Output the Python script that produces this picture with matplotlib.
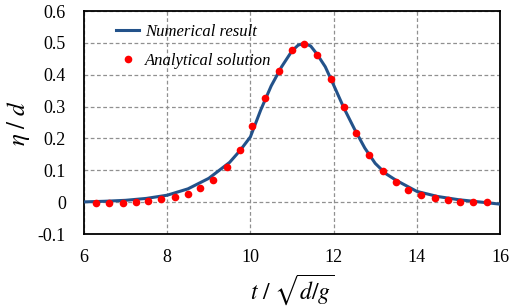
import matplotlib
matplotlib.use("Agg")
import matplotlib.pyplot as plt
import numpy as np

# Numerical result (blue line)
line_t = [6.0, 6.5, 7.0, 7.5, 8.0, 8.5, 9.0, 9.5, 9.75, 10.0, 10.25, 10.5, 10.75,
          11.0, 11.15, 11.3, 11.45, 11.6, 11.8, 12.0, 12.25, 12.5, 12.75, 13.0,
          13.25, 13.5, 14.0, 14.5, 15.0, 15.5, 16.0]
line_eta = [0.001, 0.003, 0.006, 0.012, 0.022, 0.042, 0.075, 0.125, 0.162, 0.205,
            0.290, 0.365, 0.425, 0.475, 0.493, 0.499, 0.490, 0.465, 0.425, 0.368,
            0.295, 0.230, 0.170, 0.122, 0.090, 0.069, 0.034, 0.018, 0.008, 0.001, -0.006]

# Analytical solution (red dots)
dot_t = [6.30, 6.61, 6.93, 7.24, 7.55, 7.86, 8.18, 8.49, 8.80, 9.11, 9.43, 9.74,
         10.05, 10.36, 10.68, 10.99, 11.30, 11.61, 11.93, 12.24, 12.55, 12.86,
         13.18, 13.49, 13.80, 14.11, 14.43, 14.74, 15.05, 15.36, 15.68]
dot_eta = [-0.003, -0.003, -0.002, 0.001, 0.004, 0.009, 0.015, 0.027, 0.044, 0.069,
           0.109, 0.163, 0.238, 0.326, 0.413, 0.477, 0.495, 0.463, 0.388, 0.298,
           0.217, 0.147, 0.097, 0.063, 0.038, 0.023, 0.012, 0.007, 0.002, 0.000, 0.000]

x_ticks = [6, 8, 10, 12, 14, 16]
y_ticks = [-0.1, 0, 0.1, 0.2, 0.3, 0.4, 0.5, 0.6]
y_tick_labels = ["-0.1", "0", "0.1", "0.2", "0.3", "0.4", "0.5", "0.6"]

plt.rcParams['font.family'] = ['Liberation Serif', 'DejaVu Serif']
plt.rcParams['mathtext.fontset'] = 'stix'

fig = plt.figure(figsize=(5.1, 3.06), dpi=100)
ax = fig.add_axes([0.1647, 0.235, 0.8157, 0.729])

ax.plot(line_t, line_eta, color='#23528a', lw=2.2, label='Numerical result', zorder=3)
ax.plot(dot_t, dot_eta, 'o', color='#ff0000', ms=5.5, mec='none',
        label='Analytical solution', zorder=4)

ax.set_xlim(6, 16)
ax.set_ylim(-0.1, 0.6)
ax.set_xticks(x_ticks)
ax.set_yticks(y_ticks)
ax.set_yticklabels(y_tick_labels)
ax.tick_params(length=0, labelsize=13)
ax.tick_params(axis='y', pad=13)
ax.tick_params(axis='x', pad=11)
ax.grid(True, color='#909090', ls=(0, (3, 2)), lw=0.9)
for s in ax.spines.values():
    s.set_linewidth(1.3)
    s.set_color('black')

ax.set_xlabel(r'$t\ /\ \sqrt{d/g}$', fontsize=17, labelpad=4)
ax.set_ylabel(r'$\eta\ /\ d$', fontsize=18, labelpad=4)

leg = ax.legend(loc='upper left', bbox_to_anchor=(0.05, 0.995), frameon=False,
                prop={'style': 'italic', 'size': 12}, handlelength=1.35,
                handletextpad=0.35, labelspacing=0.8, borderaxespad=0.3)

fig.savefig('out.png', dpi=100)
